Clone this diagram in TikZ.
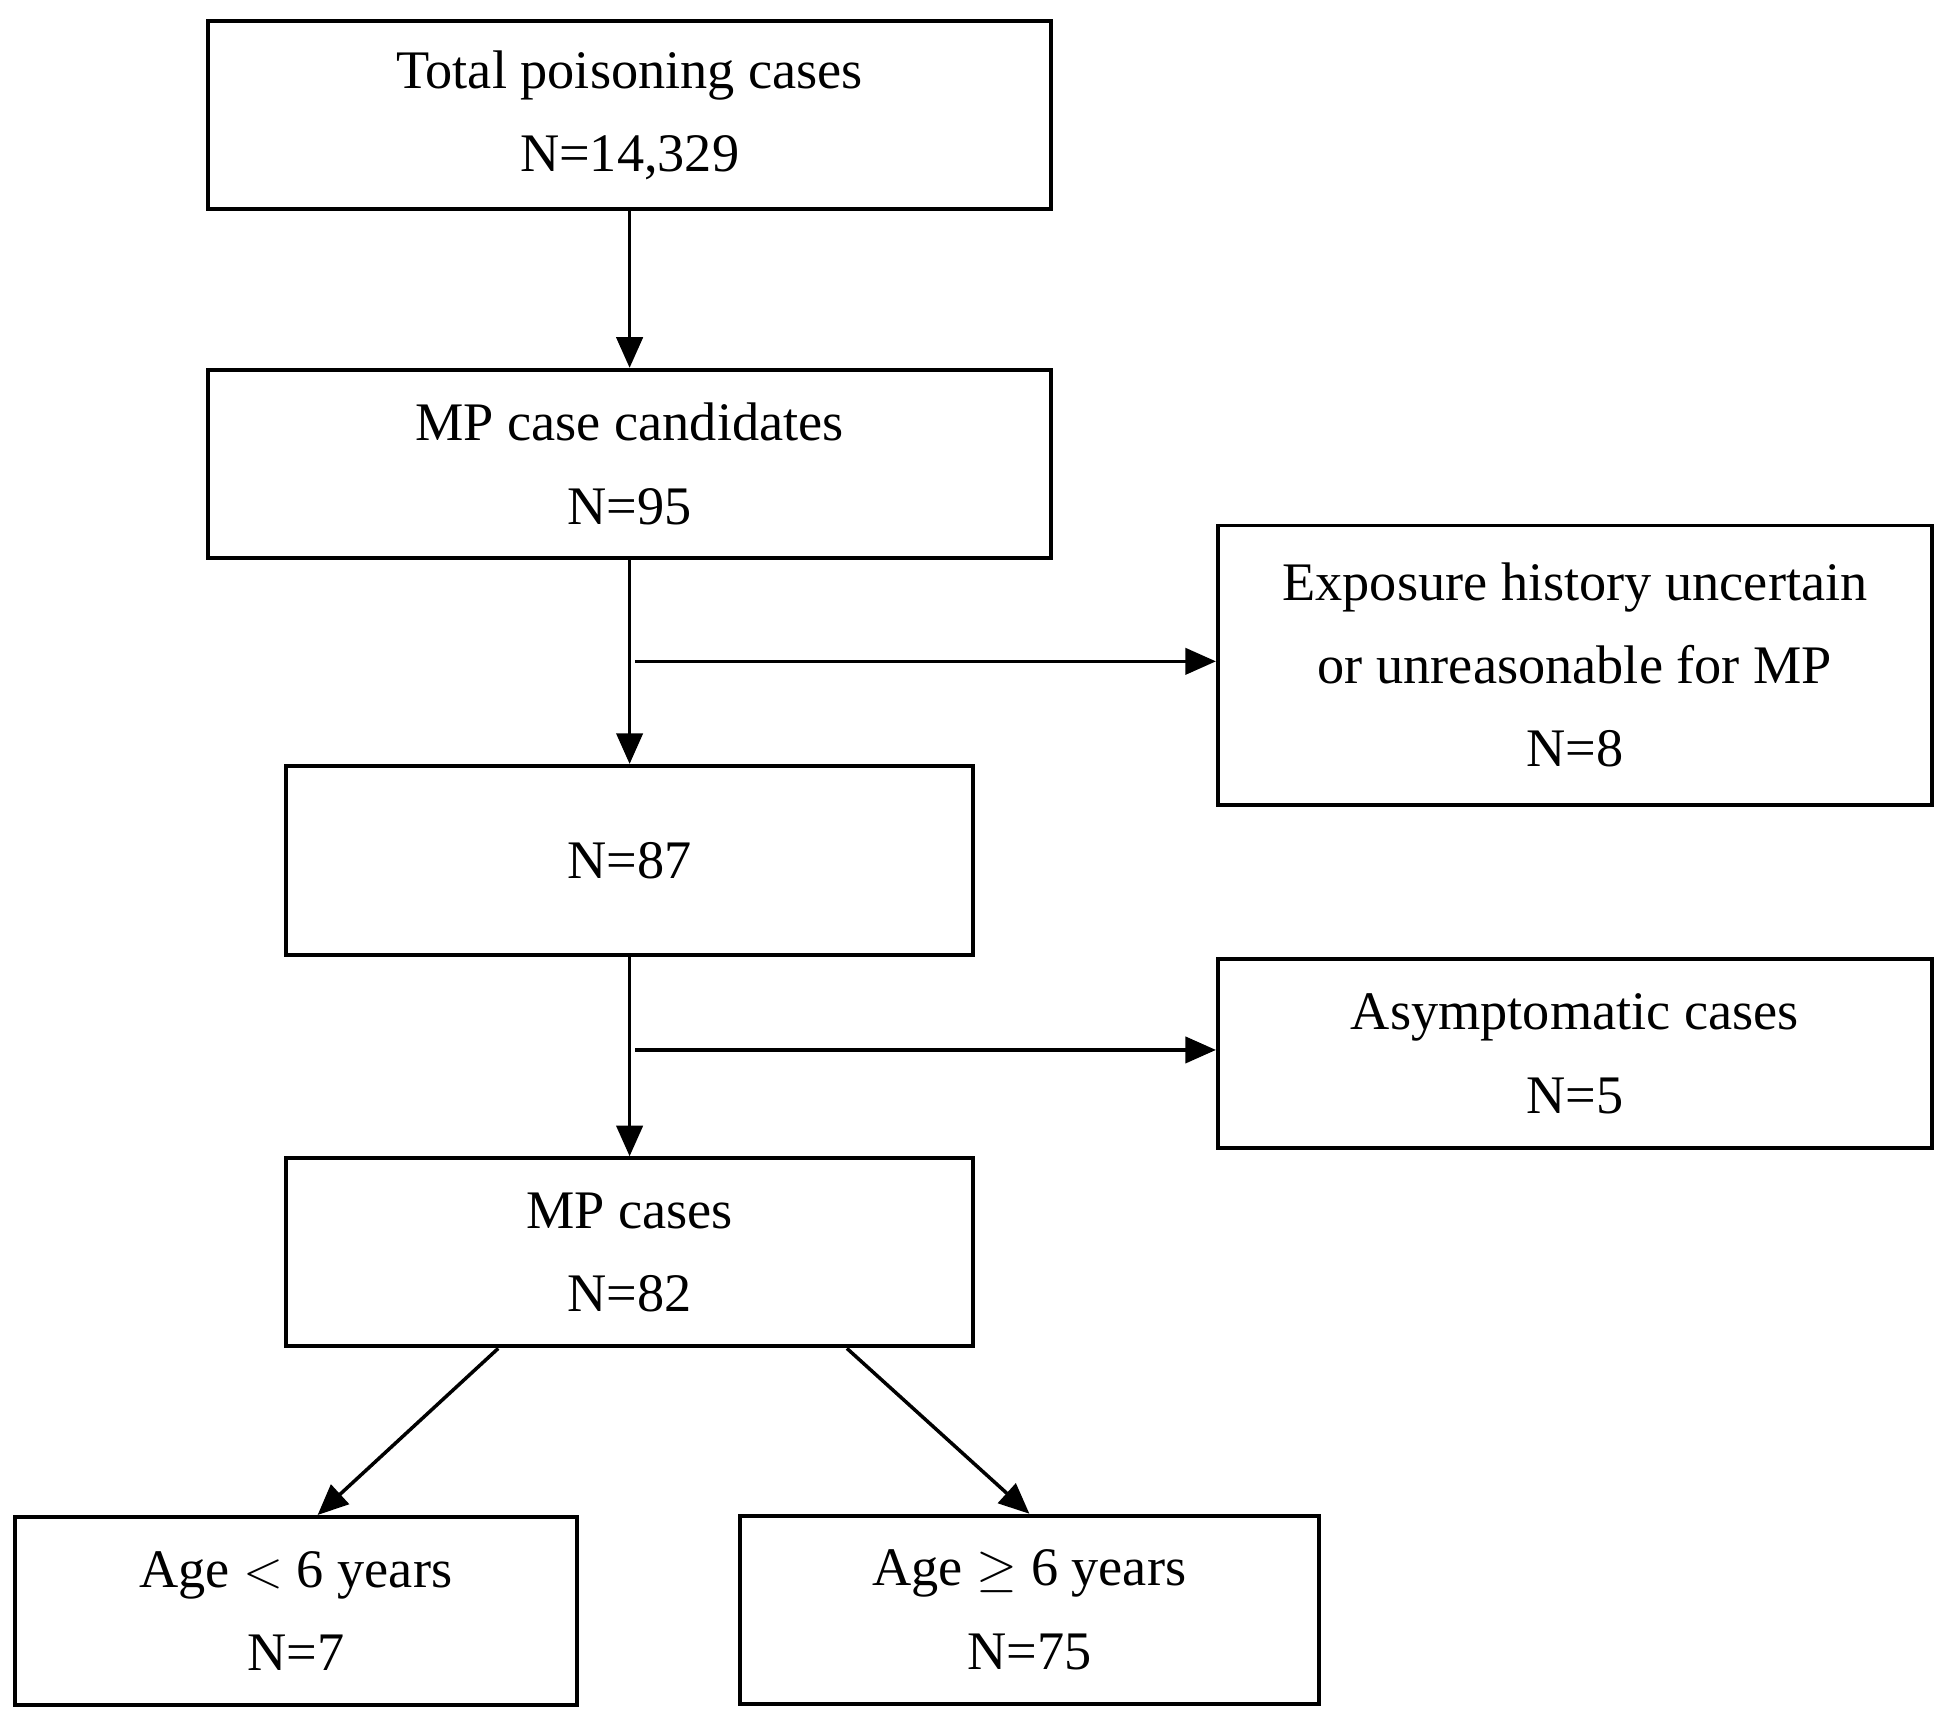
\documentclass[tikz,border=0pt]{standalone}
\usepackage{fontspec}
\setmainfont{Liberation Serif}
\usepackage{amssymb}
\usetikzlibrary{positioning,arrows.meta}

\begin{document}
\begin{tikzpicture}[x=0.01cm, y=-0.01cm, >={Triangle[length=7pt,width=6pt]},
  box/.style={draw, line width=0.9pt, align=center, inner sep=0pt,
    font=\fontsize{12.4}{19}\selectfont},
  flow/.style={->, line width=0.8pt}]
\useasboundingbox (0,0) rectangle (1560,1377);
% ----------------- main column -----------------
\node (total) [box, minimum width=6.77cm, minimum height=1.51cm] at (505.5,92.5) {Total poisoning cases\\N=14,329};
\node (cand) [box, minimum width=6.77cm, minimum height=1.51cm] at (505.5,372.5) {MP case candidates\\N=95};
\node (mid) [box, minimum width=5.51cm, minimum height=1.52cm] at (505.5,691) {N=87};
\node (mp) [box, minimum width=5.51cm, minimum height=1.51cm] at (505.5,1005.5) {MP cases\\N=82};

% ----------------- exclusions -----------------
\node (excl1) [box, minimum width=5.73cm, minimum height=2.24cm] at (1264.5,534) {Exposure history uncertain\\or unreasonable for MP\\N=8};
\node (excl2) [box, minimum width=5.73cm, minimum height=1.52cm] at (1264.5,846) {Asymptomatic cases\\N=5};

% ----------------- age groups -----------------
\node (young) [box, minimum width=4.51cm, minimum height=1.51cm] at (237.5,1293.5) {Age $<$ 6 years\\N=7};
\node (old) [box, minimum width=4.65cm, minimum height=1.51cm] at (826.5,1292.5) {Age $\geq$ 6 years\\N=75};

\coordinate (b1) at (510,531);
\coordinate (b2) at (510,843);

% ----------------- arrows -----------------
\draw[flow] (total) -- (cand);
\draw[flow] (cand) -- (mid);
\draw[flow] (mid) -- (mp);
\draw[flow] (b1) -- (b1 -| excl1.west);
\draw[flow] (b2) -- (b2 -| excl2.west);
\draw[flow] (mp.south -| 400,0) -- (young.north -| 255,0);
\draw[flow] (mp.south -| 680,0) -- (old.north);
\end{tikzpicture}
\end{document}
